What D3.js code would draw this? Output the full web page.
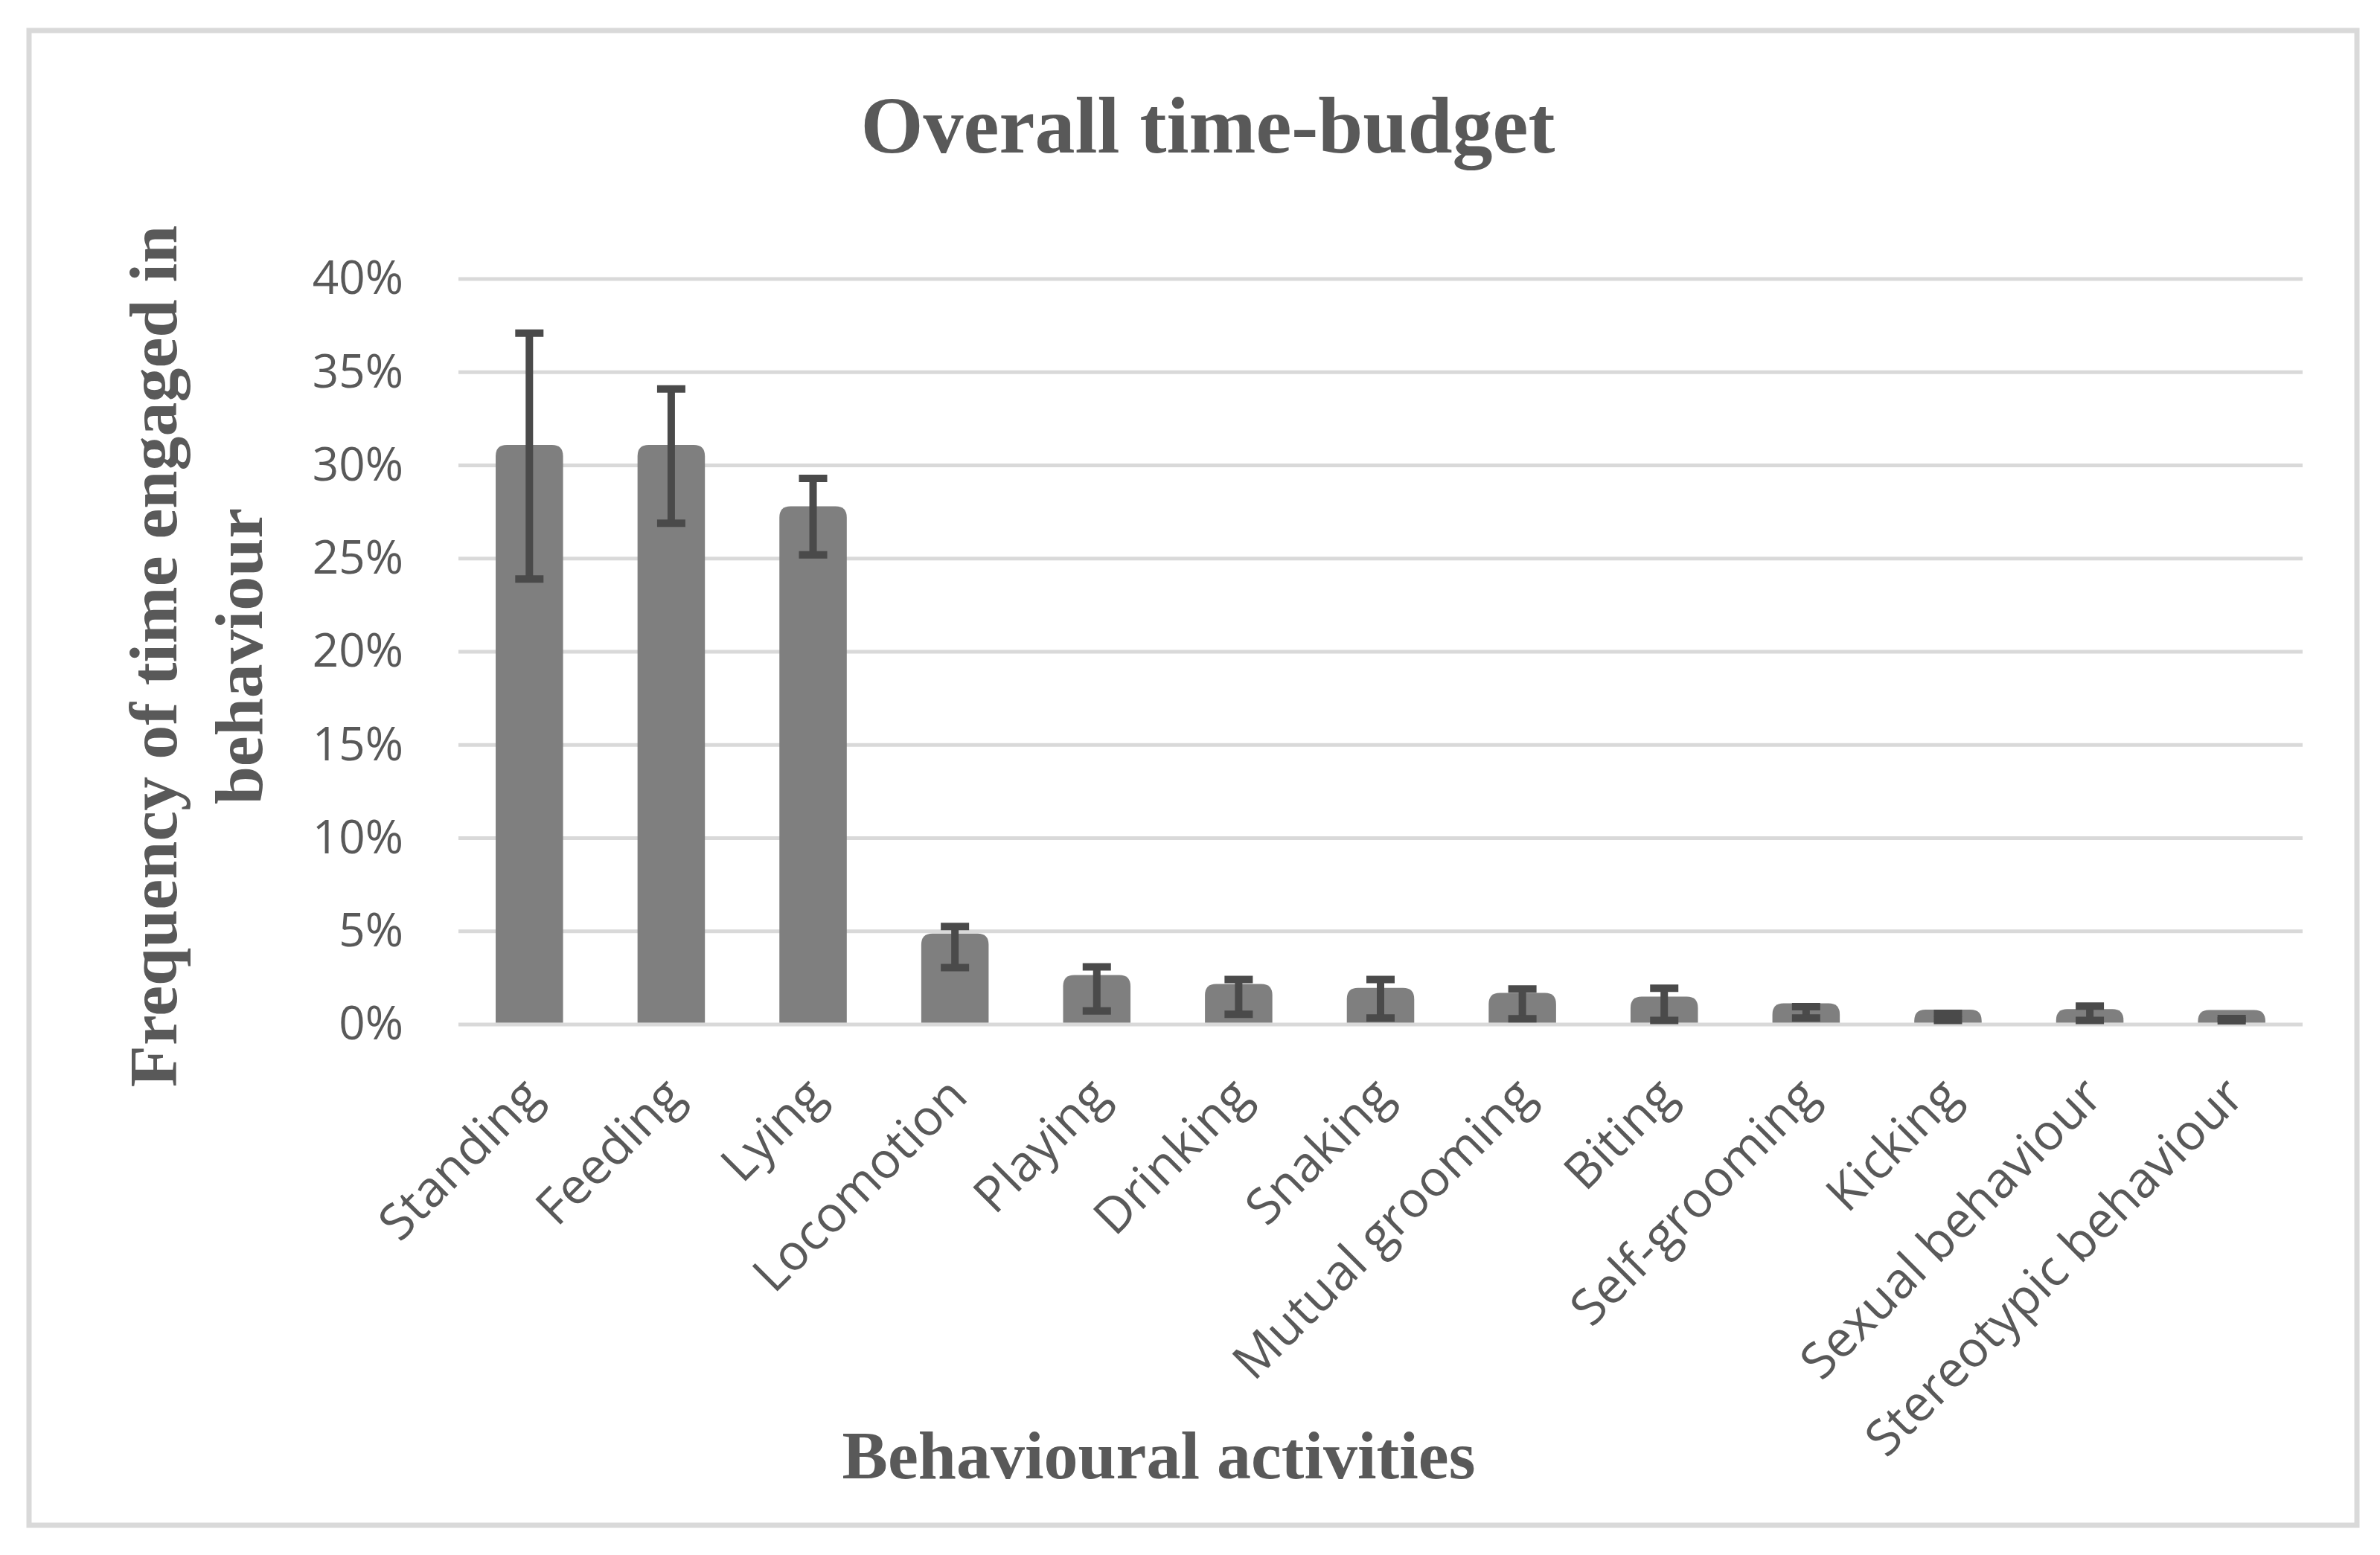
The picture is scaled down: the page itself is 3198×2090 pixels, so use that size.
<!DOCTYPE html>
<html>
<head>
<meta charset="utf-8">
<script src="https://cdn.jsdelivr.net/npm/d3@7"></script>
<style>
  html, body { margin: 0; padding: 0; background: #fff; }
  svg { display: block; }
</style>
</head>
<body>
<svg id="chart" width="3198" height="2090"></svg>
<script>
// values (percent)
const categories = [
	'Standing', 'Feeding', 'Lying', 'Locomotion', 'Playing', 'Drinking', 'Snaking',
	'Mutual grooming', 'Biting', 'Self-grooming', 'Kicking', 'Sexual behaviour', 'Stereotypic behaviour'
];
const values = [31.1, 31.1, 27.8, 4.88, 2.65, 2.18, 1.97, 1.70, 1.50, 1.14, 0.80, 0.83, 0.78];
const errLow = [23.9, 26.9, 25.2, 3.05, 0.73, 0.55, 0.35, 0.31, 0.22, 0.35, 0.22, 0.22, 0.20];
const errHigh = [37.1, 34.1, 29.3, 5.26, 3.09, 2.42, 2.42, 1.91, 1.95, 0.96, 0.60, 0.99, 0.32];
const yTicks = [0, 5, 10, 15, 20, 25, 30, 35, 40];

const textColor = '#595959';
const gridColor = '#d9d9d9';
const barColor = '#7f7f7f';
const errColor = '#4a4a4a';

const svg = d3.select('#chart');

// outer frame
svg.append('rect')
	.attr('x', 39).attr('y', 41)
	.attr('width', 3128).attr('height', 2009)
	.attr('fill', '#fff')
	.attr('stroke', gridColor)
	.attr('stroke-width', 7);

const x = d3.scaleBand()
	.domain(categories)
	.range([616, 3094])
	.paddingInner(0.525)
	.paddingOuter(0.2625);

const y = d3.scaleLinear()
	.domain([0, 40])
	.range([1377, 375]);

// gridlines
svg.append('g')
	.selectAll('line')
	.data(yTicks)
	.join('line')
	.attr('x1', 616)
	.attr('x2', 3094)
	.attr('y1', d => y(d))
	.attr('y2', d => y(d))
	.attr('stroke', gridColor)
	.attr('stroke-width', 5);

// y axis tick labels
const yAxis = svg.append('g')
	.attr('transform', 'translate(560,0)')
	.call(d3.axisLeft(y).tickValues(yTicks).tickFormat(d => d + '%').tickSize(0).tickPadding(18));
yAxis.select('.domain').remove();
yAxis.selectAll('text')
	.attr('font-family', '"Open Sans", sans-serif')
	.attr('font-size', 62)
	.attr('fill', textColor);

// bars with rounded tops
const barPath = (d, i) => {
	const x0 = x(categories[i]);
	const w = x.bandwidth();
	const yb = y(0) - 2.5;
	const yt = y(d);
	const r = Math.min(15, yb - yt, w / 2);
	return 'M' + x0 + ',' + yb +
		'V' + (yt + r) +
		'Q' + x0 + ',' + yt + ' ' + (x0 + r) + ',' + yt +
		'H' + (x0 + w - r) +
		'Q' + (x0 + w) + ',' + yt + ' ' + (x0 + w) + ',' + (yt + r) +
		'V' + yb + 'Z';
};

svg.append('g')
	.selectAll('path')
	.data(values)
	.join('path')
	.attr('d', barPath)
	.attr('fill', barColor);

// error bars
const err = svg.append('g')
	.attr('stroke', errColor)
	.attr('stroke-width', 10)
	.selectAll('g')
	.data(categories)
	.join('g')
	.attr('transform', d => 'translate(' + (x(d) + x.bandwidth() / 2) + ',0)');

err.append('line')
	.attr('y1', (d, i) => y(errLow[i]))
	.attr('y2', (d, i) => y(errHigh[i]));
err.append('line')
	.attr('x1', -19).attr('x2', 19)
	.attr('y1', (d, i) => y(errHigh[i]))
	.attr('y2', (d, i) => y(errHigh[i]));
err.append('line')
	.attr('x1', -19).attr('x2', 19)
	.attr('y1', (d, i) => y(errLow[i]))
	.attr('y2', (d, i) => y(errLow[i]));

// category labels, rotated
svg.append('g')
	.selectAll('text')
	.data(categories)
	.join('text')
	.attr('transform', d => 'translate(' + (x(d) + x.bandwidth() / 2 + 20) + ',' + (y(0) + 100) + ') rotate(-45)')
	.attr('text-anchor', 'end')
	.attr('font-family', '"Open Sans", sans-serif')
	.attr('font-size', 67)
	.attr('fill', textColor)
	.text(d => d);

// titles
svg.append('text')
	.attr('x', 1623)
	.attr('y', 205)
	.attr('text-anchor', 'middle')
	.attr('font-family', '"Liberation Serif", serif')
	.attr('font-weight', 'bold')
	.attr('font-size', 108)
	.attr('fill', textColor)
	.text('Overall time-budget');

svg.append('text')
	.attr('x', 1557)
	.attr('y', 1987)
	.attr('text-anchor', 'middle')
	.attr('font-family', '"Liberation Serif", serif')
	.attr('font-weight', 'bold')
	.attr('font-size', 92)
	.attr('fill', textColor)
	.text('Behavioural activities');

const yTitle = svg.append('text')
	.attr('transform', 'translate(237,882) rotate(-90)')
	.attr('text-anchor', 'middle')
	.attr('font-family', '"Liberation Serif", serif')
	.attr('font-weight', 'bold')
	.attr('font-size', 92)
	.attr('fill', textColor);
yTitle.append('tspan').attr('x', 0).attr('y', 0).text('Frequency of time engaged in');
yTitle.append('tspan').attr('x', 0).attr('y', 115).text('behaviour');
</script>
</body>
</html>
